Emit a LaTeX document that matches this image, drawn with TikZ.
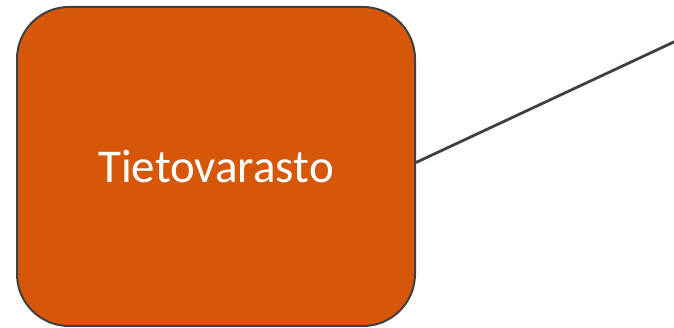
\documentclass[tikz,border=0pt]{standalone}
\usepackage{fontspec}
\setmainfont{Carlito}
\definecolor{boxorange}{HTML}{D75709}
\definecolor{edgegray}{HTML}{404040}

\begin{document}
\begin{tikzpicture}[x=1pt, y=1pt,
  every node/.style={font=\fontsize{47}{52}\selectfont}]
\useasboundingbox (0,0) rectangle (674,328);
\node[draw=edgegray, line width=2pt, fill=boxorange, text=white,
  rounded corners=52pt, minimum width=398pt, minimum height=319pt,
  inner sep=0pt] (store) at (216,161.5) {Tietovarasto};
\coordinate (far) at (676,287);
\draw[edgegray, line width=2.8pt]
  ([yshift=4pt]store.east) -- (far);
\end{tikzpicture}
\end{document}
